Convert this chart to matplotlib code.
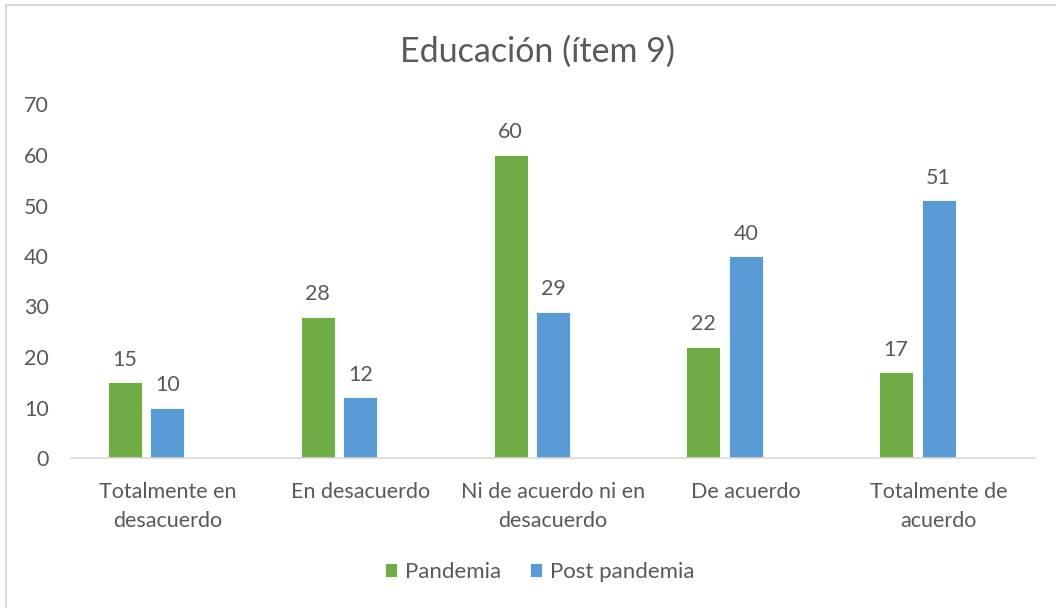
import matplotlib.pyplot as plt
import numpy as np
from matplotlib.patches import Rectangle

plt.rcParams['font.family'] = ['Lato', 'DejaVu Sans']

categorias = ['Totalmente en\ndesacuerdo', 'En desacuerdo', 'Ni de acuerdo ni en\ndesacuerdo',
              'De acuerdo', 'Totalmente de\nacuerdo']
pandemia = [15, 28, 60, 22, 17]
post_pandemia = [10, 12, 29, 40, 51]

gris = '#595959'
verde = '#70AD47'
azul = '#5B9BD5'

fig = plt.figure(figsize=(10.56, 6.08), dpi=100)
# marco del grafico
fig.patches.append(Rectangle((6 / 1056, -0.1), 1.2, (608 - 5) / 608 + 0.1, transform=fig.transFigure,
                             fill=False, edgecolor='#d9d9d9', linewidth=1.5))

ax = fig.add_axes([71 / 1056, 150 / 608, 964 / 1056, 353.5 / 608])
x = np.arange(len(categorias))
ancho = 0.176
b1 = ax.bar(x - 0.22, pandemia, ancho, color=verde, edgecolor='white', linewidth=0.6, label='Pandemia')
b2 = ax.bar(x, post_pandemia, ancho, color=azul, edgecolor='white', linewidth=0.6, label='Post pandemia')

for barras in (b1, b2):
    for b in barras:
        ax.annotate(str(int(b.get_height())), (b.get_x() + b.get_width() / 2, b.get_height()),
                    xytext=(0, 9), textcoords='offset points', ha='center', va='bottom',
                    fontsize=15.5, color=gris)

ax.set_xlim(-0.5, 4.5)
ax.set_ylim(0, 70)
ax.set_yticks(range(0, 71, 10))
ax.set_xticks(x)
ax.set_xticklabels(categorias, linespacing=1.6)
ax.tick_params(axis='y', length=0, pad=16, labelsize=15.5, labelcolor=gris)
ax.tick_params(axis='x', length=0, pad=17, labelsize=15.5, labelcolor=gris)
for s in ['top', 'right', 'left']:
    ax.spines[s].set_visible(False)
ax.spines['bottom'].set_color('#d9d9d9')
ax.spines['bottom'].set_linewidth(1.2)

fig.text(537 / 1056, 1 - 52 / 608, 'Educación (ítem 9)', ha='center', va='center', fontsize=24.5, color=gris)

fig.legend(loc='center', bbox_to_anchor=(540 / 1056, 1 - 572 / 608), ncol=2, frameon=False,
           fontsize=16, labelcolor=gris, handlelength=0.55, handleheight=0.55, handletextpad=0.35,
           columnspacing=1.3)

fig.savefig('out.png', dpi=100)
